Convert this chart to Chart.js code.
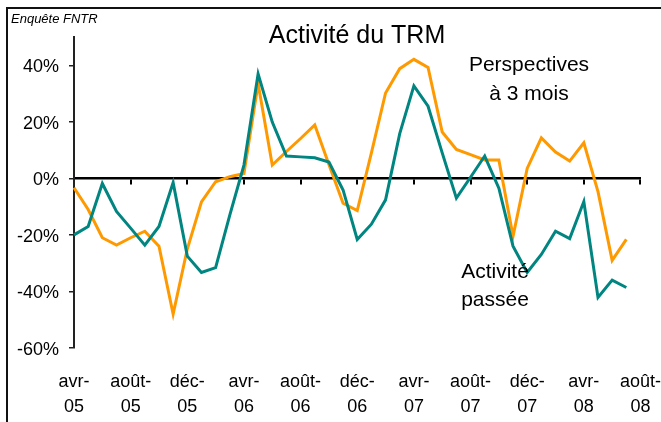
<!DOCTYPE html>
<html>
<head>
<meta charset="utf-8">
<script src="https://cdn.jsdelivr.net/npm/chart.js@4.4.1/dist/chart.umd.min.js"></script>
<style>
  html, body { margin: 0; padding: 0; background: #fff; }
  #chart { display: block; }
</style>
</head>
<body>
<canvas id="chart" width="661" height="422"></canvas>
<script>
const months = [
  'avr-05', 'mai-05', 'juin-05', 'juil-05', 'août-05', 'sept-05', 'oct-05', 'nov-05',
  'déc-05', 'janv-06', 'févr-06', 'mars-06', 'avr-06', 'mai-06', 'juin-06', 'juil-06',
  'août-06', 'sept-06', 'oct-06', 'nov-06', 'déc-06', 'janv-07', 'févr-07', 'mars-07',
  'avr-07', 'mai-07', 'juin-07', 'juil-07', 'août-07', 'sept-07', 'oct-07', 'nov-07',
  'déc-07', 'janv-08', 'févr-08', 'mars-08', 'avr-08', 'mai-08', 'juin-08', 'juil-08',
  'août-08'
];

// Activité passée (teal)
const activitePassee = [
  -20, -17, -1.8, -11.7, -17.6, -23.6, -17, -1.5,
  -27.5, -33.3, -31.6, -13, 4.7, 37, 19.9, 7.9,
  7.6, 7.3, 5.8, -4.1, -21.6, -16.2, -7.6, 15.8,
  32.7, 25.5, 9, -7, 0.4, 7.9, -3.5, -24,
  -33.3, -26.9, -18.7, -21.3, -8.2, -42.1, -36, -38.6
];

// Perspectives à 3 mois (orange)
const perspectives = [
  -3.3, -11, -21, -23.6, -21, -18.7, -24, -48,
  -25, -8.3, -1.2, 0.6, 1.7, 33.5, 4.7, 9.5,
  14.1, 18.9, 4.9, -8.8, -11.4, 9, 30.2, 38.8,
  42.1, 39.2, 16.4, 10.2, 8.4, 6.5, 6.5, -20.5,
  3.5, 14.3, 9.3, 6.1, 12.6, -4.7, -29, -21.6
];

const yTicks = [-60, -40, -20, 0, 20, 40];

const FONT = "'Liberation Sans', Arial, sans-serif";
Chart.defaults.font.family = FONT;
Chart.defaults.color = '#000';

const everyFourth = scale => {
  scale.ticks = scale.ticks.filter(t => t.value % 4 === 0);
};

const overlay = {
  id: 'overlay',
  beforeDraw(chart) {
    const c = chart.ctx;
    c.save();
    c.fillStyle = '#fff';
    c.fillRect(0, 0, chart.width, chart.height);
    c.restore();
  },
  afterDraw(chart) {
    const c = chart.ctx;
    c.save();
    c.strokeStyle = '#111';
    c.lineWidth = 2;
    c.beginPath();
    c.moveTo(7, chart.height);
    c.lineTo(7, 8);
    c.lineTo(chart.width, 8);
    c.stroke();

    c.fillStyle = '#000';
    c.textBaseline = 'alphabetic';
    c.textAlign = 'left';
    c.font = 'italic 13px ' + FONT;
    c.fillText('Enquête FNTR', 11, 23);

    c.textAlign = 'center';
    c.font = '25px ' + FONT;
    c.fillText('Activité du TRM', 357, 43);

    c.font = '21px ' + FONT;
    c.fillText('Perspectives', 529, 71);
    c.fillText('à 3 mois', 529, 100);
    c.fillText('Activité', 495, 278);
    c.fillText('passée', 495, 306);
    c.restore();
  }
};

new Chart(document.getElementById('chart'), {
  type: 'line',
  data: {
    labels: months,
    datasets: [
      {
        label: 'Activité passée',
        data: activitePassee,
        borderColor: '#008580',
        borderWidth: 3,
        pointRadius: 0,
        tension: 0,
        fill: false
      },
      {
        label: 'Perspectives à 3 mois',
        data: perspectives,
        borderColor: '#ff9900',
        borderWidth: 3,
        pointRadius: 0,
        tension: 0,
        fill: false
      }
    ]
  },
  options: {
    responsive: false,
    animation: false,
    devicePixelRatio: 1,
    layout: { padding: { top: 37, right: 20, bottom: 0, left: 0 } },
    plugins: {
      legend: { display: false },
      tooltip: { enabled: false }
    },
    scales: {
      x: {
        type: 'category',
        position: 'bottom',
        offset: false,
        afterBuildTicks: everyFourth,
        afterFit: s => { s.height = 74; },
        // invisible tick marks push the labels down without widening the side padding
        grid: { display: false, drawTicks: true, tickLength: 21 },
        border: { display: false },
        ticks: {
          autoSkip: false,
          maxRotation: 0,
          padding: 0,
          font: { size: 18, lineHeight: 1.4 },
          callback: function (value) {
            const parts = this.getLabelForValue(value).split('-');
            return [parts[0] + '-', parts[1]];
          }
        }
      },
      xz: {
        type: 'category',
        axis: 'x',
        position: { y: 0 },
        offset: false,
        afterBuildTicks: everyFourth,
        ticks: { display: false },
        grid: { drawOnChartArea: false, drawTicks: true, tickLength: 5, color: '#000', lineWidth: 2 },
        border: { display: true, color: '#000', width: 2.5 }
      },
      y: {
        min: -60,
        max: 50,
        afterFit: s => { s.width = 74; },
        afterBuildTicks: scale => {
          scale.ticks = yTicks.map(v => ({ value: v }));
        },
        grid: { drawOnChartArea: false, drawTicks: true, tickLength: 5, color: '#222', lineWidth: 1.5 },
        border: { display: true, color: '#222', width: 2 },
        ticks: {
          stepSize: 20,
          includeBounds: false,
          padding: 10,
          labelOffset: 2,
          font: { size: 18 },
          callback: v => v + '%'
        }
      }
    }
  },
  plugins: [overlay]
});
</script>
</body>
</html>
